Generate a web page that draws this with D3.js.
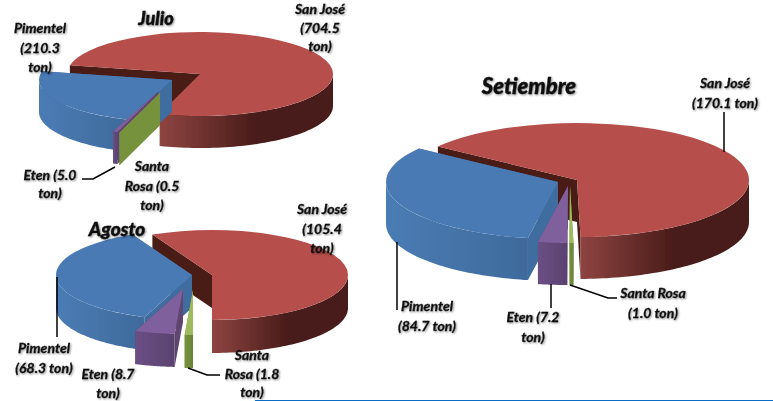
<!DOCTYPE html>
<html>
<head>
<meta charset="utf-8">
<script src="https://cdn.jsdelivr.net/npm/d3@7"></script>
<style>
  html, body { margin: 0; padding: 0; background: #fff; }
  svg { display: block; }
  text { font-family: Lato, "Open Sans", sans-serif; font-weight: 700; font-style: italic; fill: #111; stroke: #111; stroke-width: 0.3px; }
  text.title { font-weight: 900; stroke-width: 0.4px; }
</style>
</head>
<body>
<svg id="chart"></svg>
<script>
// Data
const places = ['San José', 'Pimentel', 'Eten', 'Santa Rosa'];
const julioValues = [704.5, 210.3, 5.0, 0.5];
const agostoValues = [105.4, 68.3, 8.7, 1.8];
const setiembreValues = [170.1, 84.7, 7.2, 1.0];

// Colours per place: top, wall left, wall right, cut face
const topColors = ['#b64f4b', '#4a7ab4', '#80609c', '#9dbb5c'];
const wallLeft = ['#8e4441', '#4a7cb4', '#6a4f84', '#76923c'];
const wallRight = ['#4a1c1a', '#3f6a9c', '#5a4270', '#6a8438'];
const cutColors = ['#4a1b18', '#3f6d9f', '#5f4570', '#76923c'];

const width = 773;
const height = 401;

const svg = d3.select('#chart')
  .attr('width', width)
  .attr('height', height);

const defs = svg.append('defs');

// The reference is a soft upscaled image, so marks and text get a small blur
defs.append('filter').attr('id', 'soft')
  .append('feGaussianBlur').attr('stdDeviation', 0.6);

const textFilter = defs.append('filter').attr('id', 'textSoft')
  .attr('x', '-10%').attr('y', '-20%').attr('width', '120%').attr('height', '150%');
textFilter.append('feGaussianBlur').attr('in', 'SourceAlpha').attr('stdDeviation', 1.1).attr('result', 'halo');
textFilter.append('feOffset').attr('in', 'halo').attr('dx', 0.6).attr('dy', 0.8).attr('result', 'shifted');
textFilter.append('feComponentTransfer').attr('in', 'shifted').attr('result', 'shadow')
  .append('feFuncA').attr('type', 'linear').attr('slope', 0.45);
textFilter.append('feGaussianBlur').attr('in', 'SourceGraphic').attr('stdDeviation', 0.3).attr('result', 'body');
const textMerge = textFilter.append('feMerge');
textMerge.append('feMergeNode').attr('in', 'shadow');
textMerge.append('feMergeNode').attr('in', 'body');

// Layout of the three pies. shifts = how far each slice is pulled out, by place
const months = [
  {
    id: 'julio', title: 'Julio', values: julioValues,
    cx: 200, cy: 74, rx: 133, ry: 42, depth: 32, start: 282,
    shifts: [[0, 0], [-28, 6], [-42, 18], [-40, 19]],
    titlePos: [156, 25, 18],
    labels: [
      { x: 320, y: 14, breaks: [2, 1, 1], gap: 18.5 },
      { x: 40, y: 33, breaks: [1, 1, 1] },
      { x: 50, y: 180, breaks: [2, 1], gap: 18 },
      { x: 152, y: 171, breaks: [1, 2, 1] }
    ],
    leaders: [
      [[82, 179], [93, 179], [115, 167]]
    ]
  },
  {
    id: 'agosto', title: 'Agosto', values: agostoValues,
    cx: 212, cy: 275, rx: 136, ry: 45, depth: 33, start: 334,
    shifts: [[0, 0], [-20, 0], [-29, 14], [-19, 15]],
    titlePos: [117, 236, 19],
    labels: [
      { x: 322, y: 214, breaks: [2, 1, 1] },
      { x: 44, y: 353, breaks: [1, 2] },
      { x: 108, y: 379, breaks: [2, 1], gap: 18.5 },
      { x: 252, y: 360, breaks: [1, 2, 1], gap: 18.5 }
    ],
    leaders: [
      [[57, 277], [57, 337]],
      [[188, 368], [207, 375], [220, 375]]
    ]
  },
  {
    id: 'setiembre', title: 'Setiembre', values: setiembreValues,
    cx: 577, cy: 180, rx: 172, ry: 57, depth: 42, start: 306,
    shifts: [[0, 0], [-19, 2], [-9, 6], [-7, 6]],
    titlePos: [529, 94, 22],
    labels: [
      { x: 725, y: 88, breaks: [2, 2] },
      { x: 427, y: 311, breaks: [1, 2] },
      { x: 533, y: 322, breaks: [2, 1] },
      { x: 653, y: 298, breaks: [2, 2] }
    ],
    leaders: [
      [[724, 112], [724, 152]],
      [[397, 242], [397, 310]],
      [[551, 284], [551, 308]],
      [[570, 285], [608, 298], [617, 298]]
    ]
  }
];

const line = d3.line();
const lineGap = 19.5;

months.forEach(m => {
  const scaleY = m.ry / m.rx;
  const startRad = m.start * Math.PI / 180;

  // Clockwise: San José, Santa Rosa, Eten, Pimentel
  const sliceOrder = [0, 3, 2, 1];
  const pie = d3.pie()
    .sort((a, b) => sliceOrder.indexOf(a) - sliceOrder.indexOf(b))
    .value(i => m.values[i])
    .startAngle(startRad)
    .endAngle(startRad + 2 * Math.PI);
  const arcs = pie(d3.range(places.length));

  const arc = d3.arc().innerRadius(0).outerRadius(m.rx);
  const chart = svg.append('g').attr('id', m.id).attr('filter', 'url(#soft)');

  // Draw back to front, in place order
  arcs.slice().sort((a, b) => a.data - b.data).forEach(d => {
    const i = d.data;
    const cx = m.cx + m.shifts[i][0];
    const cy = m.cy + m.shifts[i][1];
    const rim = a => [cx + Math.sin(a) * m.rx, cy - Math.cos(a) * m.ry];
    const slice = chart.append('g').attr('class', 'slice');

    // Cut faces
    [d.startAngle, d.endAngle].forEach(a => {
      const p = rim(a);
      slice.append('path')
        .attr('d', line([[cx, cy], p, [p[0], p[1] + m.depth], [cx, cy + m.depth]]) + 'Z')
        .attr('fill', cutColors[i]);
    });

    // Curved wall, only where it faces the viewer
    [0, 1].forEach(k => {
      const lo = Math.max(d.startAngle, Math.PI / 2 + 2 * Math.PI * k);
      const hi = Math.min(d.endAngle, 3 * Math.PI / 2 + 2 * Math.PI * k);
      if (hi <= lo) return;
      const steps = d3.range(0, 61).map(s => lo + (hi - lo) * s / 60);
      const upper = steps.map(rim);
      const lower = upper.map(p => [p[0], p[1] + m.depth]).reverse();
      const xs = d3.extent(upper, p => p[0]);
      const gradId = `${m.id}-wall-${i}-${k}`;
      const grad = defs.append('linearGradient').attr('id', gradId)
        .attr('gradientUnits', 'userSpaceOnUse')
        .attr('x1', xs[0]).attr('x2', xs[1]).attr('y1', 0).attr('y2', 0);
      grad.append('stop').attr('offset', 0).attr('stop-color', wallLeft[i]);
      grad.append('stop').attr('offset', i === 0 ? 0.55 : 1).attr('stop-color', wallRight[i]);
      slice.append('path')
        .attr('d', line(upper.concat(lower)) + 'Z')
        .attr('fill', `url(#${gradId})`);
    });

    // Top face: a circular arc squashed into the ellipse
    slice.append('path')
      .attr('transform', `translate(${cx},${cy}) scale(1,${scaleY})`)
      .attr('d', arc(d))
      .attr('fill', topColors[i]);
  });

  // Leader lines
  m.leaders.forEach(pts => {
    svg.append('path')
      .attr('d', line(pts))
      .attr('fill', 'none')
      .attr('stroke', '#000')
      .attr('stroke-width', 1.5);
  });

  // Title
  svg.append('text')
    .attr('class', 'title')
    .attr('x', m.titlePos[0])
    .attr('y', m.titlePos[1])
    .attr('text-anchor', 'middle')
    .attr('font-size', m.titlePos[2])
    .attr('filter', 'url(#textSoft)')
    .text(m.title);

  // Labels, wrapped by a word count per line
  m.labels.forEach((l, i) => {
    const words = `${places[i]} (${m.values[i].toFixed(1)} ton)`.split(' ');
    let used = 0;
    l.breaks.forEach((count, row) => {
      svg.append('text')
        .attr('x', l.x)
        .attr('y', l.y + row * (l.gap || lineGap))
        .attr('text-anchor', 'middle')
        .attr('font-size', 14)
        .attr('filter', 'url(#textSoft)')
        .text(words.slice(used, used + count).join(' '));
      used += count;
    });
  });
});

// Blue rule along the bottom edge
svg.append('line')
  .attr('x1', 255).attr('x2', width)
  .attr('y1', 400.5).attr('y2', 400.5)
  .attr('stroke', '#0a6cc4')
  .attr('stroke-width', 1);
</script>
</body>
</html>
